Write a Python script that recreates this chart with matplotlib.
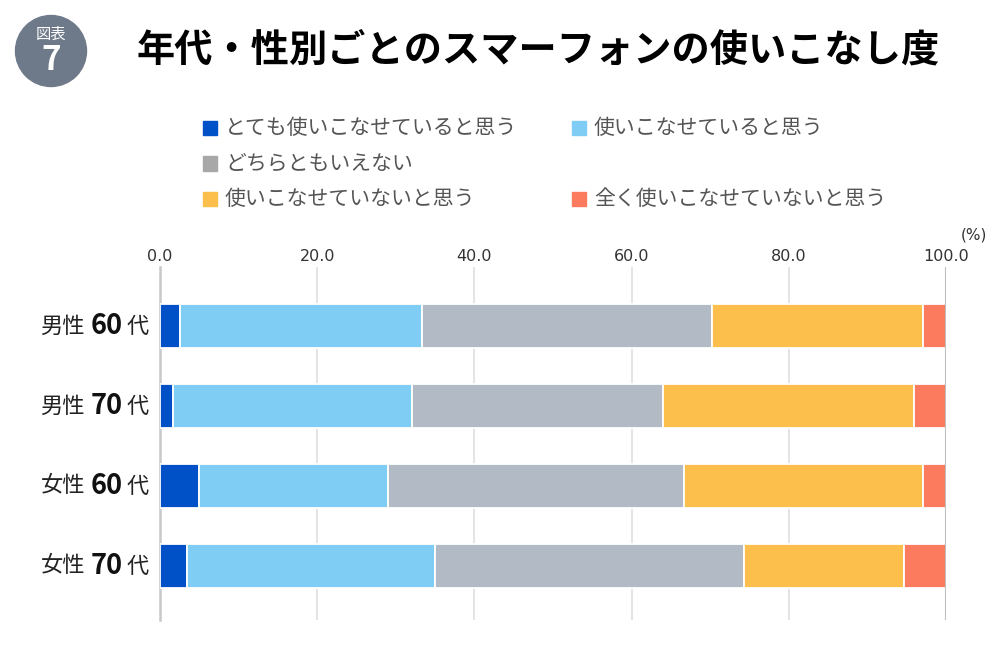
import numpy as np
import matplotlib
matplotlib.use('Agg')
import matplotlib.pyplot as plt
from matplotlib.patches import Circle, Rectangle

plt.rcParams['font.family'] = ['Noto Sans CJK JP', 'DejaVu Sans']

# data (%)
groups = ['男性', '男性', '女性', '女性']
ages = ['60', '70', '60', '70']
answers = ['とても使いこなせていると思う', '使いこなせていると思う', 'どちらともいえない',
           '使いこなせていないと思う', '全く使いこなせていないと思う']
very_well = [2.6, 1.7, 4.9, 3.4]
well = [30.7, 30.4, 24.1, 31.6]
neither = [36.9, 31.9, 37.7, 39.3]
not_well = [26.9, 31.9, 30.4, 20.4]
not_at_all = [2.9, 4.1, 2.9, 5.3]
ticks = [0, 20, 40, 60, 80, 100]

bar_colors = ['#0050c8', '#7fcdf5', '#b2bac6', '#fdbf4b', '#fc7b5e']
legend_colors = ['#0050c8', '#7fcdf5', '#a8a8a8', '#fdbf4b', '#fc7b5e']
legend_slots = [(0, 0), (1, 0), (0, 1), (0, 2), (1, 2)]

W, H = 1000, 662
fig = plt.figure(figsize=(10, 6.62), dpi=100)

def fx(px):
    return px / W

def fy(py):
    return 1 - py / H

# badge + title
badge = Circle((0.51, (H - 51) / 100), 0.355, transform=fig.dpi_scale_trans,
               color='#6e7a8a')
fig.patches.append(badge)
fig.text(fx(51), fy(34), '図表', color='white', fontsize=11, ha='center', va='center')
fig.text(fx(51), fy(60), '7', color='white', fontsize=24, fontweight='bold',
         ha='center', va='center')
fig.text(fx(538), fy(50), '年代・性別ごとのスマーフォンの使いこなし度', fontsize=27.5,
         fontweight='bold', ha='center', va='center', color='black')

# legend, laid out by hand as in the original
for lab, col, (c, r) in zip(answers, legend_colors, legend_slots):
    x0 = 203 + c * 369
    y0 = 128 + r * 35.5
    fig.patches.append(Rectangle((fx(x0), fy(y0 + 7)), 14 / W, 14 / H,
                                 transform=fig.transFigure, color=col))
    fig.text(fx(x0 + 22), fy(y0), lab, fontsize=15, color='#555555',
             ha='left', va='center')

# bars
ax = fig.add_axes([fx(160), fy(620), fx(946 - 160), (620 - 267) / H])
series = [very_well, well, neither, not_well, not_at_all]
y = np.arange(len(groups))
left = np.zeros(len(groups))
for vals, col in zip(series, bar_colors):
    ax.barh(y, vals, left=left, height=0.56, color=col, edgecolor='white',
            linewidth=1.3, zorder=3)
    left += np.array(vals)

ax.set_xlim(0, 100)
ax.set_ylim(3.675, -0.7375)
ax.xaxis.tick_top()
ax.set_xticks(ticks)
ax.set_xticklabels(['%.1f' % t for t in ticks], fontsize=11.5, color='#333333',
                   family=['Liberation Sans Narrow', 'DejaVu Sans'])
ax.tick_params(axis='x', length=0, pad=2)
ax.set_yticks([])
for t in ticks[1:-1]:
    ax.axvline(t, color='#e2e2e2', lw=1.3, zorder=1)
ax.axvline(100, color='#bdbdbd', lw=1.5, zorder=4)
for s in ['top', 'bottom', 'right']:
    ax.spines[s].set_visible(False)
ax.spines['left'].set_color('#c8c8c8')
ax.spines['left'].set_linewidth(1.8)
fig.text(fx(974), fy(235), '(%)', fontsize=11, color='#333333', ha='center',
         va='center', family=['Liberation Sans Narrow', 'DejaVu Sans'])

# category labels: 男性 + bold age + 代, right-aligned
for i in range(len(groups)):
    t1 = ax.annotate('代', xy=(fx(149), y[i]), xycoords=('figure fraction', 'data'),
                     ha='right', va='center', fontsize=16, color='#222222')
    t2 = ax.annotate(ages[i], xy=(0, 0.5), xycoords=t1, xytext=(-3, 0),
                     textcoords='offset points', ha='right', va='center',
                     fontsize=19.5, fontweight='bold', color='#111111')
    ax.annotate(groups[i], xy=(0, 0.5), xycoords=t2, xytext=(-4, 0),
                textcoords='offset points', ha='right', va='center',
                fontsize=16, color='#222222')

fig.savefig('out.png', dpi=100, facecolor='white')
